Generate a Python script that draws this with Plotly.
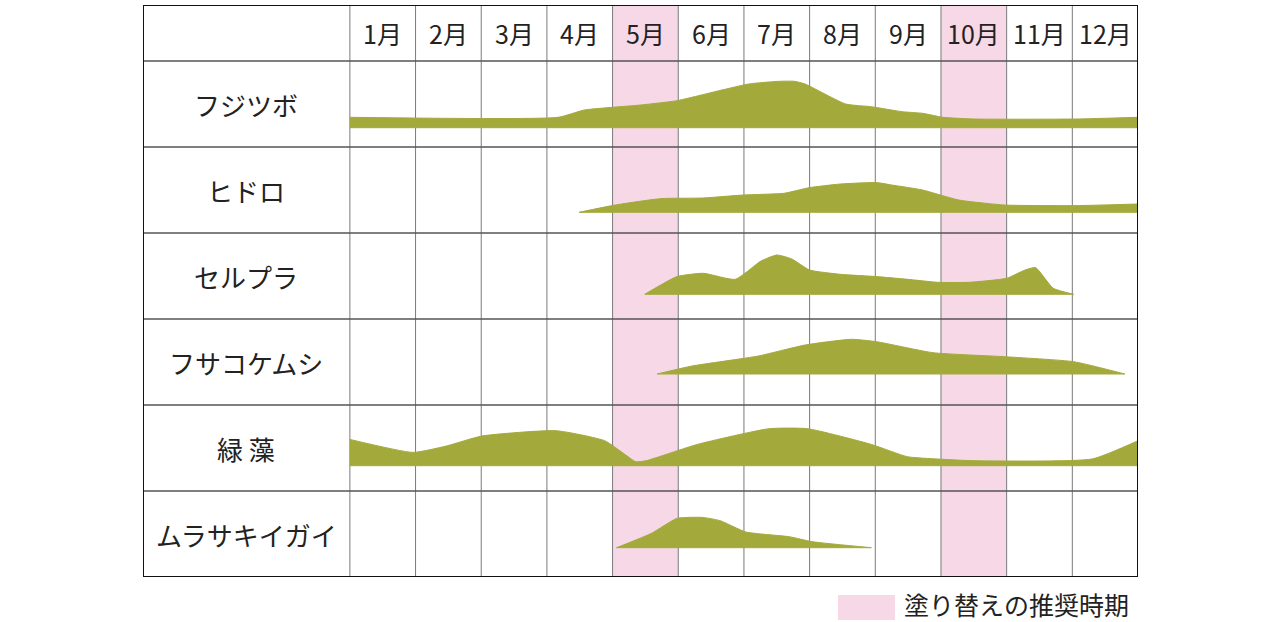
import plotly.graph_objects as go

# months across the top
months = ["1月", "2月", "3月", "4月", "5月", "6月", "7月", "8月", "9月", "10月", "11月", "12月"]
# recommended repaint months (1-based)
repaint_months = [5, 10]

organisms = ["フジツボ", "ヒドロ", "セルプラ", "フサコケムシ", "緑 藻", "ムラサキイガイ"]

# profile of each organism: position in months (0 = start of Jan) and
# thickness of the band above its base line (row height = 86)
fujitsubo_x = [0, 3.17, 3.57, 4.43, 4.98, 5.29, 6.07, 6.54, 6.77, 6.93, 7.55, 7.94, 8.41, 8.72, 9.03, 9.5, 11.06, 12]
fujitsubo_h = [10.4, 10.4, 17.7, 22.7, 27, 31.7, 43.7, 46.4, 46.4, 43.7, 23.7, 21, 16, 14.4, 10.4, 8.7, 8.7, 10.4]

hidoro_x = [3.49, 4.04, 4.74, 5.37, 5.99, 6.61, 7.0, 7.47, 8.02, 8.25, 8.72, 9.27, 9.97, 11.06, 12]
hidoro_h = [0, 7.3, 13.7, 14.3, 17.3, 19, 24.7, 28.3, 29.7, 27.3, 22.3, 12.3, 7.3, 6.7, 8.3]

serupura_x = [4.49, 4.98, 5.38, 5.87, 6.26, 6.5, 6.73, 7.0, 7.47, 8.02, 8.49, 8.95, 9.42, 10.0, 10.28, 10.44, 10.71, 11.02]
serupura_h = [0, 17.7, 21, 15, 33.3, 39.3, 35.3, 24.3, 20, 17.7, 15, 12, 12, 16, 24.3, 26.7, 6, 0]

fusakoke_x = [4.68, 5.21, 6.22, 6.93, 7.63, 8.02, 8.88, 9.97, 11.02, 11.8]
fusakoke_h = [0, 8, 18, 29, 34.7, 32.3, 21.3, 17.3, 12.3, 0]

ryokuso_x = [0, 0.96, 1.47, 2.01, 3.14, 3.88, 4.2, 4.35, 4.51, 5.29, 6.38, 6.97, 7.94, 8.49, 8.95, 9.5, 11.3, 12]
ryokuso_h = [26.3, 13.3, 19.7, 29.7, 35, 25, 10.7, 4, 5, 21.3, 37, 37, 21.3, 9, 6.7, 5, 6.7, 25]

murasaki_x = [4.06, 4.59, 4.98, 5.37, 5.64, 6.03, 6.69, 7.04, 7.94]
murasaki_h = [0, 14.3, 29.3, 30.3, 27, 15.7, 11, 6, 0]

profiles_x = [fujitsubo_x, hidoro_x, serupura_x, fusakoke_x, ryokuso_x, murasaki_x]
profiles_h = [fujitsubo_h, hidoro_h, serupura_h, fusakoke_h, ryokuso_h, murasaki_h]
# base line of each band, measured up from the bottom of its row
base_offsets = [19.3, 20.7, 24.7, 31, 25.3, 29.3]

ROW_H = 86
HEAD_H = 56
LABEL_W = 3.15  # width of the name column, in months
n_rows = len(organisms)
top = n_rows * ROW_H + HEAD_H

GREEN = "#a3aa3b"
PINK = "#f6d8e6"
FONT = "Noto Sans CJK JP"

fig = go.Figure()

for i, (xs, hs) in enumerate(zip(profiles_x, profiles_h)):
    base = (n_rows - 1 - i) * ROW_H + base_offsets[i]
    # flat base line, then the profile filled down to it
    fig.add_trace(go.Scatter(x=[xs[0], xs[-1]], y=[base, base], mode="lines",
                             line=dict(color=GREEN, width=1), hoverinfo="skip", showlegend=False))
    fig.add_trace(go.Scatter(x=xs, y=[base + h for h in hs], fill="tonexty", fillcolor=GREEN,
                             mode="lines", line=dict(color=GREEN, width=1, shape="spline", smoothing=0.5),
                             hoverinfo="skip", showlegend=False))

shapes = []
# pink columns
for m in repaint_months:
    shapes.append(dict(type="rect", xref="x", yref="y", x0=m - 1, x1=m, y0=0, y1=top,
                       fillcolor=PINK, line=dict(width=0), layer="below"))
# vertical grid lines
for k in range(0, 12):
    shapes.append(dict(type="line", xref="x", yref="y", x0=k, x1=k, y0=0, y1=top,
                       line=dict(color="#7a7a7a", width=1), layer="below"))
# horizontal row lines
for r in range(1, n_rows + 1):
    shapes.append(dict(type="line", xref="x", yref="y", x0=-LABEL_W, x1=12, y0=r * ROW_H, y1=r * ROW_H,
                       line=dict(color="#555555", width=1.5), layer="below"))
# outer border
shapes.append(dict(type="rect", xref="x", yref="y", x0=-LABEL_W, x1=12, y0=0, y1=top,
                   line=dict(color="#111111", width=2)))
# legend swatch
shapes.append(dict(type="rect", xref="paper", yref="paper", x0=0.6985, x1=0.7558, y0=-0.0752, y1=-0.0315,
                   fillcolor=PINK, line=dict(width=0)))

annotations = []
for k, m in enumerate(months):
    annotations.append(dict(x=k + 0.5, y=n_rows * ROW_H + HEAD_H / 2, text=m, showarrow=False,
                            font=dict(family=FONT, size=25, color="#222222")))
for i, name in enumerate(organisms):
    annotations.append(dict(x=-LABEL_W / 2, y=(n_rows - 1 - i) * ROW_H + ROW_H / 2, text=name, showarrow=False,
                            font=dict(family=FONT, size=26, color="#222222")))
annotations.append(dict(xref="paper", yref="paper", x=0.764, y=-0.0472, xanchor="left", yanchor="middle",
                        text="塗り替えの推奨時期", showarrow=False, borderpad=0,
                        font=dict(family=FONT, size=25, color="#222222")))

fig.update_layout(
    width=1280, height=622,
    margin=dict(l=143, r=142, t=5, b=45),
    plot_bgcolor="white", paper_bgcolor="white",
    shapes=shapes, annotations=annotations,
    xaxis=dict(range=[-LABEL_W, 12], visible=False, fixedrange=True),
    yaxis=dict(range=[0, top], visible=False, fixedrange=True),
    showlegend=False,
)

# the page body has a default margin; drop it so the figure sits at the window's corner
fig.write_html("out.html", config={"displayModeBar": False},
               post_script="document.body.style.margin='0';document.body.style.overflow='hidden';")
